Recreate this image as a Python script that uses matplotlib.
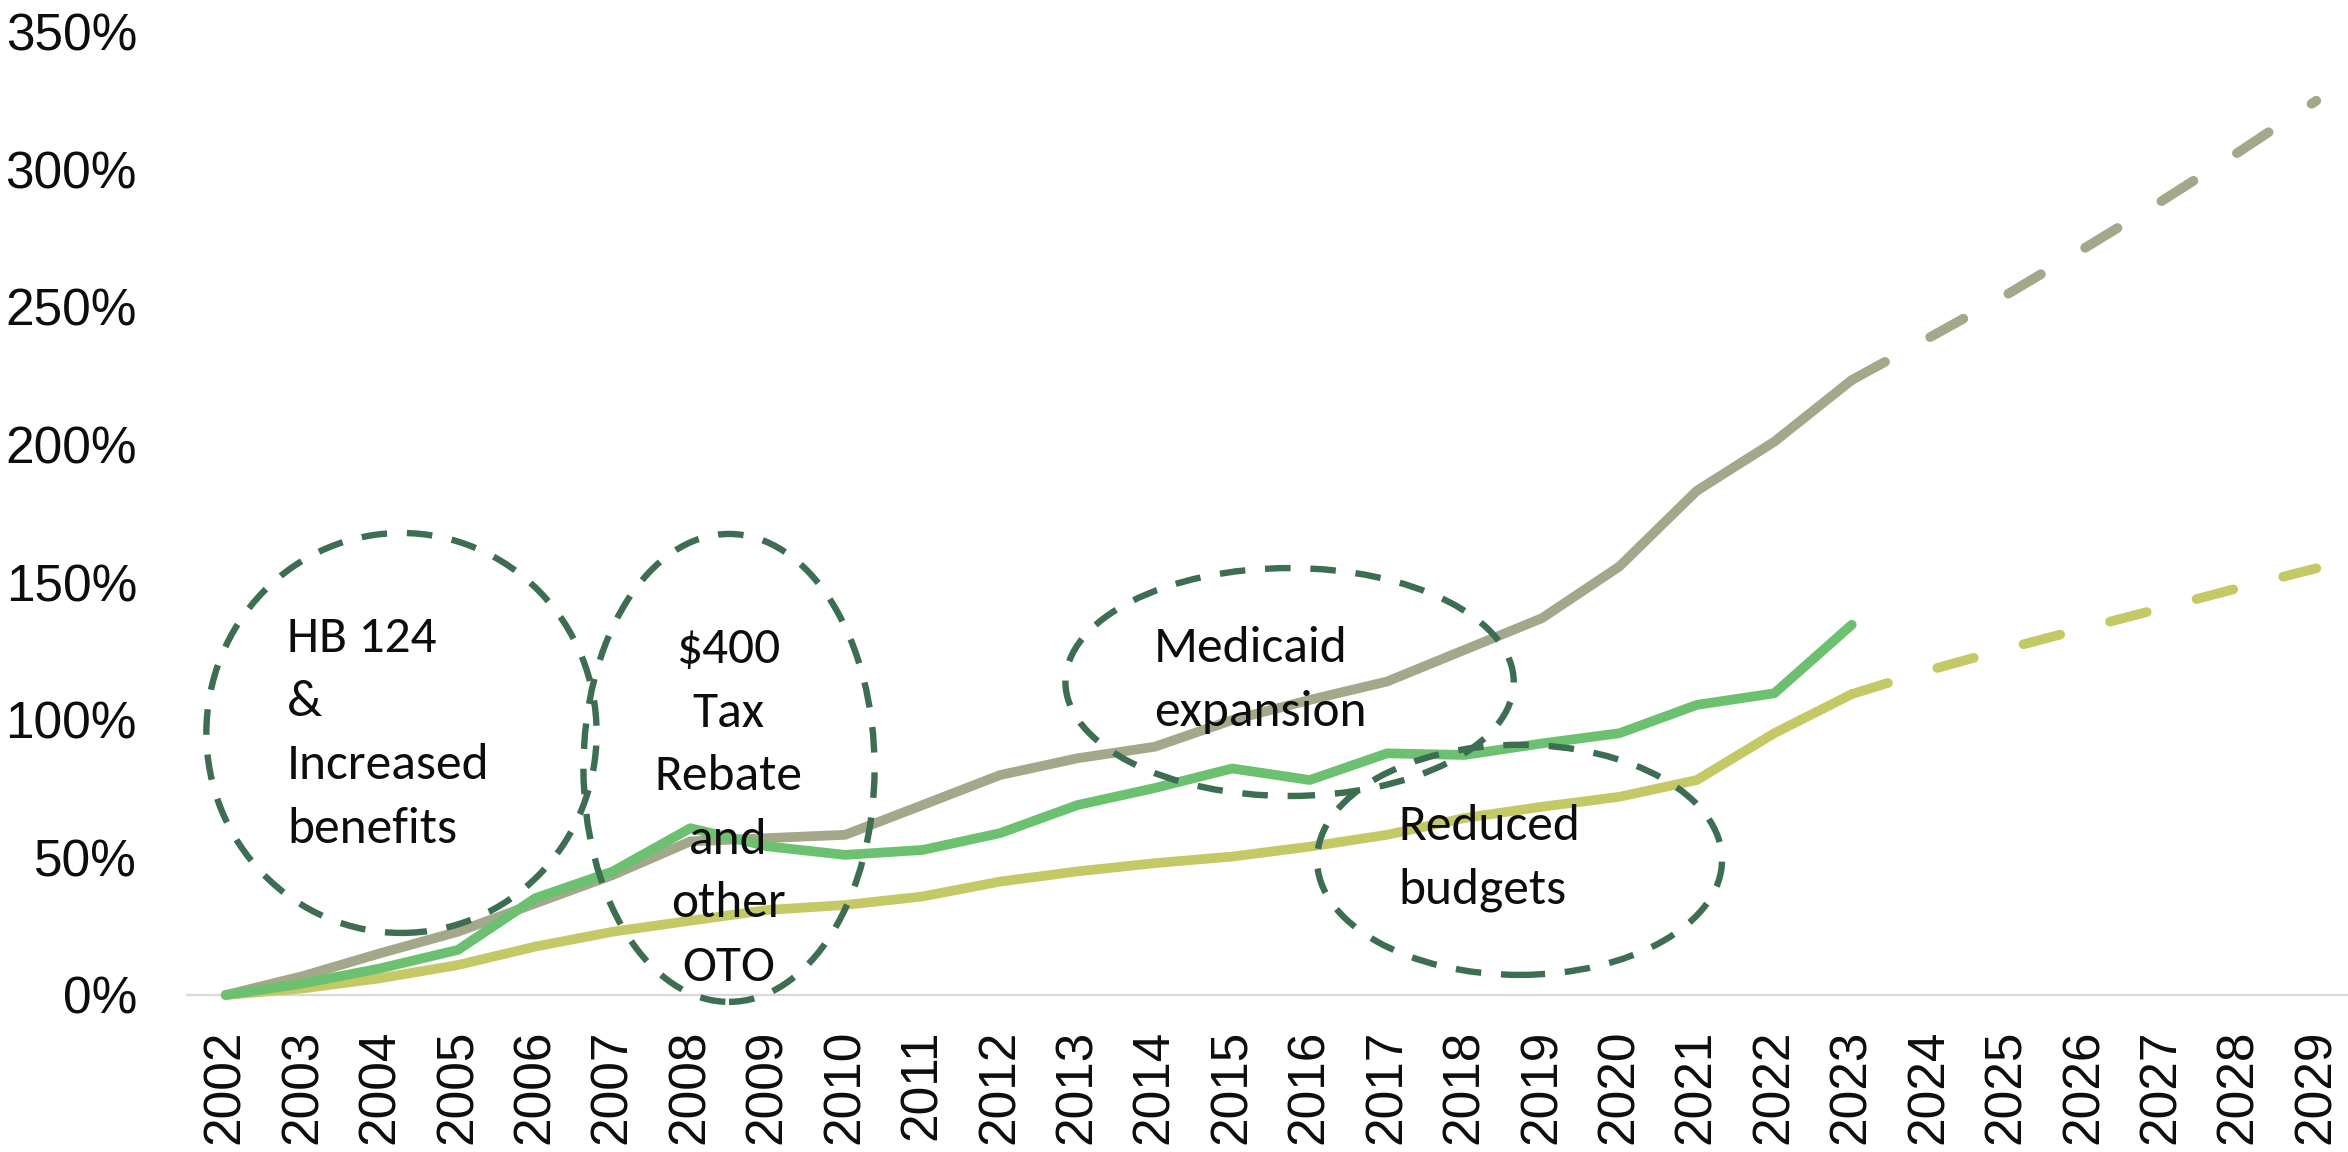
import matplotlib
matplotlib.use("Agg")
import matplotlib.pyplot as plt
from matplotlib.patches import Ellipse
from matplotlib import font_manager

# ---- data -------------------------------------------------------------
years = list(range(2002, 2030))
actual_years = list(range(2002, 2024))
projected_years = list(range(2023, 2030))

total_growth = [0.0, 6.9, 15.2, 23.0, 33.3, 43.6, 55.8, 57.0, 58.2, 69.0,
                79.9, 86.0, 90.2, 99.9, 107.2, 113.9, 125.4, 136.9, 155.7,
                183.2, 201.0, 223.4]
total_growth_projected = [223.4, 238.8, 254.4, 271.2, 288.4, 306.3, 324.9]

program_growth = [0.0, 4.2, 9.7, 16.4, 35.2, 44.9, 60.6, 54.0, 50.9, 52.7,
                  58.8, 69.0, 75.2, 82.3, 78.1, 87.8, 87.2, 91.4, 95.1,
                  105.4, 109.6, 134.5]

base_growth = [0.0, 2.4, 6.1, 10.9, 17.6, 23.0, 27.0, 30.9, 32.7, 35.8,
               41.2, 44.9, 47.9, 50.3, 53.9, 58.2, 64.3, 68.4, 72.0, 78.1,
               95.1, 109.3]
base_growth_projected = [109.3, 118.0, 125.8, 133.2, 140.5, 147.9, 155.0]

y_ticks = [0, 50, 100, 150, 200, 250, 300, 350]
y_tick_labels = [f"{v}%" for v in y_ticks]
x_tick_labels = [str(y) for y in years]

# ---- fonts --------------------------------------------------------------
available = {f.name for f in font_manager.fontManager.ttflist}
if "Carlito" in available:
    note_family, note_size = "Carlito", 37
else:
    note_family, note_size = "Lato", 35.5
tick_family = "Liberation Sans"

# ---- colours ------------------------------------------------------------
GREY = "#A3A88A"
GREEN = "#6CC170"
OLIVE = "#C5C965"
RING = "#3E6E52"
AXIS = "#D9D9D9"
INK = "#0D0D0D"

W, H = 2348, 1152
fig = plt.figure(figsize=(W / 100, H / 100), dpi=100)
ax = fig.add_axes([187 / W, 157 / H, 2168 / W, 963.4 / H])
ax.set_xlim(2001.5, 2029.5)
ax.set_ylim(0, 350)

for side in ("top", "right", "left"):
    ax.spines[side].set_visible(False)
ax.spines["bottom"].set_color(AXIS)
ax.spines["bottom"].set_linewidth(1.6)
ax.spines["bottom"].set_zorder(0.5)

ax.set_yticks(y_ticks)
ax.set_yticklabels(y_tick_labels, fontsize=37, family=tick_family, color=INK)
ax.set_xticks(years)
ax.set_xticklabels(x_tick_labels, fontsize=37, family=tick_family,
                   rotation=90, color=INK)
ax.tick_params(axis="y", length=0, pad=36)
ax.tick_params(axis="x", length=0, pad=25)

lw = 7.0
line_kw = dict(linewidth=lw, solid_capstyle="round", solid_joinstyle="round",
               dash_capstyle="round", clip_on=False)
proj_dashes = (3.9, 5.3)

ax.plot(actual_years, total_growth, color=GREY, zorder=2, **line_kw)
ax.plot(projected_years, total_growth_projected, color=GREY, zorder=2,
        dashes=proj_dashes, **line_kw)
ax.plot(actual_years, base_growth, color=OLIVE, zorder=3, **line_kw)
ax.plot(projected_years, base_growth_projected, color=OLIVE, zorder=3,
        dashes=proj_dashes, **line_kw)
ax.plot(actual_years, program_growth, color=GREEN, zorder=4, **line_kw)

# dashed rings around the policy events
rings = [
    (2004.27, 95.2, 5.04, 145.3),
    (2008.50, 82.5, 3.76, 170.0),
    (2015.74, 113.7, 5.79, 82.8),
    (2018.71, 49.1, 5.23, 83.6),
]
for cx, cy, w, h in rings:
    e = Ellipse((cx, cy), w, h, fill=False, edgecolor=RING, linewidth=4.6,
                linestyle=(0, (4.0, 3.1)), clip_on=False, zorder=5)
    e.set_capstyle("butt")
    ax.add_patch(e)

# event labels, one text per line
step = 23.1
notes = [
    (["HB 124", "&", "Increased", "benefits"], 2002.79, 124.6, "left"),
    (["$400", "Tax", "Rebate", "and", "other", "OTO"], 2008.49, 120.6, "center"),
    (["Medicaid", "expansion"], 2013.99, 121.0, "left"),
    (["Reduced", "budgets"], 2017.15, 56.3, "left"),
]
for lines, x, y0, ha in notes:
    for i, t in enumerate(lines):
        ax.text(x, y0 - i * step, t, ha=ha, va="baseline", fontsize=note_size,
                family=note_family, color=INK, zorder=6)

fig.savefig("out.png", dpi=100, facecolor="white")
